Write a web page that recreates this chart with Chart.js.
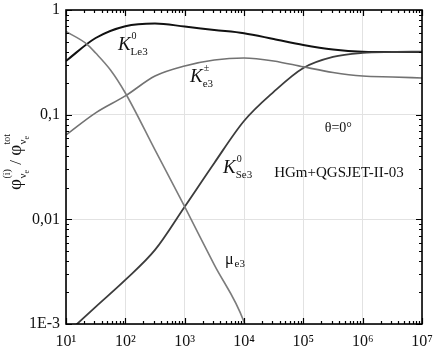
<!DOCTYPE html>
<html>
<head>
<meta charset="utf-8">
<script src="https://cdn.jsdelivr.net/npm/chart.js@4.4.1/dist/chart.umd.min.js"></script>
<style>
  html, body { margin: 0; padding: 0; background: #fff; }
  #wrap { width: 434px; height: 352px; }
</style>
</head>
<body>
<div id="wrap"><canvas id="chart"></canvas></div>
<script>
// neutrino energy grid (GeV) and flux fractions
const energies = [10, 31.62, 100, 316.2, 1000, 3162, 1e4, 31623, 1e5, 316228, 1e6, 3162278, 1e7];
const kLe3 = [0.326, 0.54, 0.70, 0.743, 0.695, 0.644, 0.60, 0.528, 0.463, 0.42, 0.40, 0.397, 0.397];
const kCharged = [0.064, 0.104, 0.151, 0.234, 0.292, 0.333, 0.348, 0.326, 0.286, 0.253, 0.234, 0.229, 0.224];
const kSe3 = [0.0008, 0.00146, 0.00264, 0.0051, 0.0132, 0.0346, 0.087, 0.165, 0.279, 0.356, 0.389, 0.397, 0.40];

const muEnergies = [10, 22.4, 31.62, 56.2, 100, 316.2, 1000, 3162, 1e4, 12589];
const muE3 = [0.623, 0.473, 0.388, 0.267, 0.161, 0.046, 0.0132, 0.00367, 0.00105, 0.00067];

const yTickLabels = { '0': '1', '-1': '0,1', '-2': '0,01', '-3': '1E-3' };
const xTickLabels = { '1': '10¹', '2': '10²', '3': '10³', '4': '10⁴', '5': '10⁵', '6': '10⁶', '7': '10⁷' };

// curve labels, anchored in data units
const curveLabels = [
  { x: 75, y: 0.415, main: 'K', sup: '0', sub: 'Le3' },
  { x: 1230, y: 0.205, main: 'K', sup: '±', sub: 'e3' },
  { x: 4426, y: 0.0277, main: 'K', sup: '0', sub: 'Se3' },
  { x: 4786, y: 0.00374, main: 'μ', sup: '', sub: 'e3' }
];
const notes = [
  { x: 389000, y: 0.0682, text: 'θ=0°', size: 14 },
  { x: 399000, y: 0.0254, text: 'HGm+QGSJET-II-03', size: 15 }
];

const SERIF = '"Liberation Serif", "Times New Roman", serif';

function pts(xs, ys) {
  return xs.map((x, i) => ({ x: x, y: ys[i] }));
}

function isDecade(v) {
  const l = Math.log10(v);
  return Math.abs(l - Math.round(l)) < 1e-6;
}

const framePlugin = {
  id: 'frame',
  afterDatasetsDraw(chart) {
    const { ctx, chartArea: a, scales } = chart;
    const xs = scales.x, ys = scales.y;
    ctx.save();
    ctx.strokeStyle = '#000';
    ctx.lineWidth = 1.2;
    ctx.beginPath();
    // x ticks, bottom and top, pointing inward
    for (let d = 1; d <= 7; d++) {
      for (let k = 1; k <= 9; k++) {
        const v = k * Math.pow(10, d);
        if (v > 1e7 * 1.0001) break;
        const px = Math.round(xs.getPixelForValue(v)) + 0.5;
        const len = k === 1 ? 6 : 3;
        ctx.moveTo(px, a.bottom); ctx.lineTo(px, a.bottom - len);
        ctx.moveTo(px, a.top); ctx.lineTo(px, a.top + len);
      }
    }
    // y ticks, left and right
    for (let d = -3; d <= 0; d++) {
      for (let k = 1; k <= 9; k++) {
        const v = k * Math.pow(10, d);
        if (v > 1.0001) break;
        const py = Math.round(ys.getPixelForValue(v)) + 0.5;
        const len = k === 1 ? 6 : 3;
        ctx.moveTo(a.left, py); ctx.lineTo(a.left + len, py);
        ctx.moveTo(a.right, py); ctx.lineTo(a.right - len, py);
      }
    }
    ctx.stroke();
    ctx.lineWidth = 1.6;
    ctx.strokeRect(a.left, a.top, a.right - a.left, a.bottom - a.top);

    // curve labels
    ctx.fillStyle = '#111';
    ctx.textBaseline = 'alphabetic';
    ctx.textAlign = 'left';
    curveLabels.forEach(l => {
      const x = xs.getPixelForValue(l.x);
      const y = ys.getPixelForValue(l.y);
      const isK = l.main === 'K';
      ctx.font = (isK ? 'italic 19px ' : '16px ') + SERIF;
      const w = ctx.measureText(l.main).width;
      if (l.sup) {
        ctx.font = '10px ' + SERIF;
        ctx.fillText(l.sup, x + w + 1, y - 11);
      }
      ctx.font = '11px ' + SERIF;
      ctx.fillText(l.sub, x + w + (isK ? 0 : 1), y + (isK ? 5 : 3));
      ctx.font = (isK ? 'italic 19px ' : '16px ') + SERIF;
      ctx.fillText(l.main, x, y);
    });

    ctx.textAlign = 'center';
    notes.forEach(n => {
      ctx.font = n.size + 'px ' + SERIF;
      ctx.fillText(n.text, xs.getPixelForValue(n.x), ys.getPixelForValue(n.y));
    });

    // y axis title: phi^(i)_nue / phi^tot_nue
    ctx.save();
    ctx.translate(21, 190);
    ctx.rotate(-Math.PI / 2);
    ctx.textAlign = 'left';
    let cx = 0;
    const piece = (main, sup) => {
      ctx.font = '19px ' + SERIF;
      ctx.fillText(main, cx, 0);
      cx += ctx.measureText(main).width + 0.5;
      ctx.font = '10px ' + SERIF;
      ctx.fillText(sup, cx, -11);
      const ws = ctx.measureText(sup).width;
      ctx.font = '11px ' + SERIF;
      ctx.fillText('ν', cx, 5);
      const wn = ctx.measureText('ν').width;
      ctx.font = '8px ' + SERIF;
      ctx.fillText('e', cx + wn, 8);
      const we = ctx.measureText('e').width;
      cx += Math.max(ws, wn + we);
    };
    piece('φ', '(i)');
    ctx.font = '17px ' + SERIF;
    ctx.fillText(' / ', cx, 0);
    cx += ctx.measureText(' / ').width;
    piece('φ', 'tot');
    ctx.restore();

    ctx.restore();
  }
};

function setupChart() {
  const ctx = document.getElementById('chart').getContext('2d');
  const line = (data, color, width) => ({
    data: data,
    borderColor: color,
    borderWidth: width,
    pointRadius: 0,
    fill: false,
    cubicInterpolationMode: 'monotone'
  });

  new Chart(ctx, {
    type: 'line',
    data: {
      datasets: [
        line(pts(muEnergies, muE3), '#7c7c7c', 1.6),
        line(pts(energies, kCharged), '#727272', 1.6),
        line(pts(energies, kSe3), '#3c3c3c', 1.8),
        line(pts(energies, kLe3), '#111111', 2)
      ]
    },
    options: {
      responsive: true,
      maintainAspectRatio: false,
      animation: false,
      events: [],
      layout: { padding: { left: 0, top: 10, right: 12, bottom: 0 } },
      plugins: { legend: { display: false }, tooltip: { enabled: false } },
      scales: {
        x: {
          type: 'logarithmic',
          min: 10,
          max: 1e7,
          border: { display: false },
          grid: {
            drawTicks: false,
            color: c => (c.tick && isDecade(c.tick.value)) ? '#e2e2e2' : 'rgba(0,0,0,0)'
          },
          ticks: {
            autoSkip: false,
            maxRotation: 0,
            padding: 8,
            color: '#111',
            font: { family: SERIF, size: 16 },
            callback: v => isDecade(v) ? (xTickLabels[String(Math.round(Math.log10(v)))] || '') : ''
          },
          afterFit: s => { s.height = 28; s.paddingLeft = 0; s.paddingRight = 0; }
        },
        y: {
          type: 'logarithmic',
          min: 0.001,
          max: 1,
          border: { display: false },
          grid: {
            drawTicks: false,
            color: c => (c.tick && isDecade(c.tick.value)) ? '#e2e2e2' : 'rgba(0,0,0,0)'
          },
          ticks: {
            autoSkip: false,
            padding: 6,
            color: '#111',
            font: { family: SERIF, size: 16 },
            callback: v => isDecade(v) ? (yTickLabels[String(Math.round(Math.log10(v)))] || '') : ''
          },
          afterFit: s => { s.width = 66; s.paddingTop = 0; s.paddingBottom = 0; }
        }
      }
    },
    plugins: [framePlugin]
  });
}

document.addEventListener('DOMContentLoaded', setupChart);
</script>
</body>
</html>
